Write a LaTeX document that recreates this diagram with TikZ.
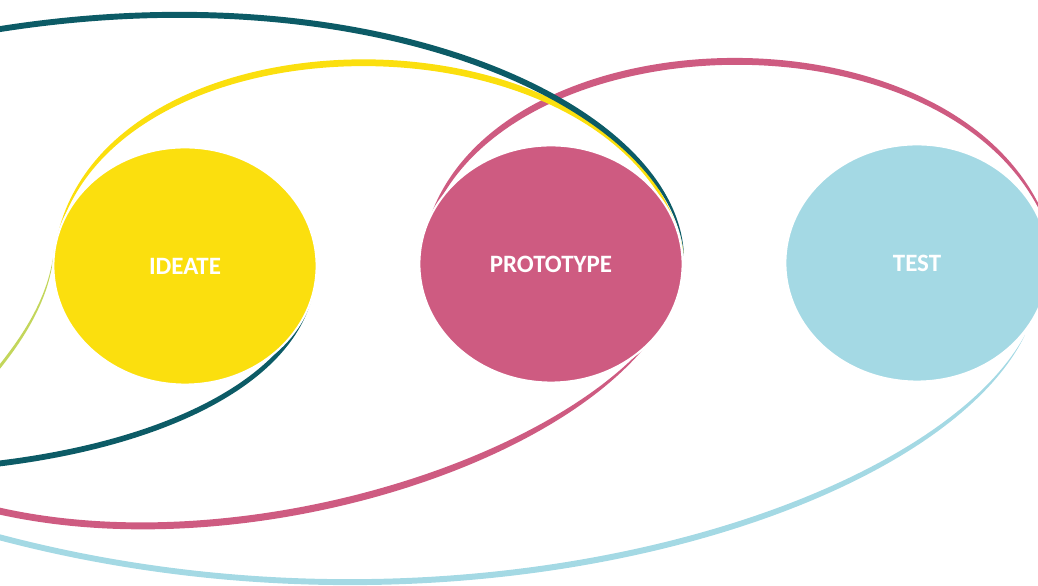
\documentclass[tikz,border=0pt]{standalone}
\usepackage{fontspec}
\setsansfont{Carlito}
\usepackage{xcolor}
\usepackage{tikz}
\usetikzlibrary{shapes.geometric}

\definecolor{loopteal}{HTML}{0C5B66}
\definecolor{ideateyellow}{HTML}{FBDF0E}
\definecolor{protopink}{HTML}{CE5B81}
\definecolor{testblue}{HTML}{A4D9E4}
\definecolor{loopgreen}{HTML}{C3D65B}

\tikzset{
  stage/.style={ellipse, draw=white, line width=0.02cm, minimum width=2.63cm,
    minimum height=2.37cm, inner sep=0pt, text=white,
    font=\sffamily\bfseries\fontsize{7.1}{8.5}\selectfont}
}

\begin{document}
\begin{tikzpicture}[x=0.01cm, y=-0.01cm]
        % Frame, the loops run out of it
        \useasboundingbox (0,0) rectangle (1038,586);
        \clip (0,0) rectangle (1038,586);

        % Green loop, only its tail shows
        \fill[loopgreen] (54,250) .. controls (49,300) and (18.8,343.8) .. (-21.1,389)
            -- (-18.9,391) .. controls (21.2,346.2) and (51,300) .. (54,250) -- cycle;

        % Pink loop: over the top to Test, and back underneath
        \fill[protopink] (422,250) .. controls (459.75,-5.25) and (1015.85,-11.85) .. (1058,265)
            .. controls (1008.15,-4.15) and (470.25,5.25) .. (422,250) -- cycle;
        \fill[protopink] (652,338) .. controls (543.24,484.32) and (180.7,583.43) .. (-61.05,497.33)
            -- (-58.95,490.67) .. controls (179.3,576.57) and (536.76,475.68) .. (652,338) -- cycle;

        % Blue loop under everything
        \fill[testblue] (1025,335) .. controls (933.5,523.5) and (420.3,675) .. (-60.9,522.85)
            -- (-59.1,517.15) .. controls (419.7,669) and (926.5,516.5) .. (1025,335) -- cycle;

        % Yellow loop from Ideate to Prototype
        \fill[ideateyellow] (55,248) .. controls (95.5,-4.5) and (634.5,-4.5) .. (684,254)
            .. controls (625.5,4.5) and (104.5,4.5) .. (55,248) -- cycle;

        % Teal loop, top and bottom
        \fill[loopteal] (684,256) .. controls (678.4,96.6) and (350,-48) .. (-60.6,37.1)
            -- (-59.4,42.9) .. controls (350,-42) and (671.6,103.4) .. (684,256) -- cycle;
        \fill[loopteal] (316,262) .. controls (320.8,382.1) and (150.9,462.85) .. (-80,473)
            -- (-80,467) .. controls (149.1,457.15) and (315.2,377.9) .. (316,262) -- cycle;

        % The three stages
        \node[stage, fill=ideateyellow] (ideate) at (185,266) {IDEATE};
        \node[stage, fill=protopink] (prototype) at (551,264) {PROTOTYPE};
        \node[stage, fill=testblue] (test) at (917,263) {TEST};

    \end{tikzpicture}
\end{document}
